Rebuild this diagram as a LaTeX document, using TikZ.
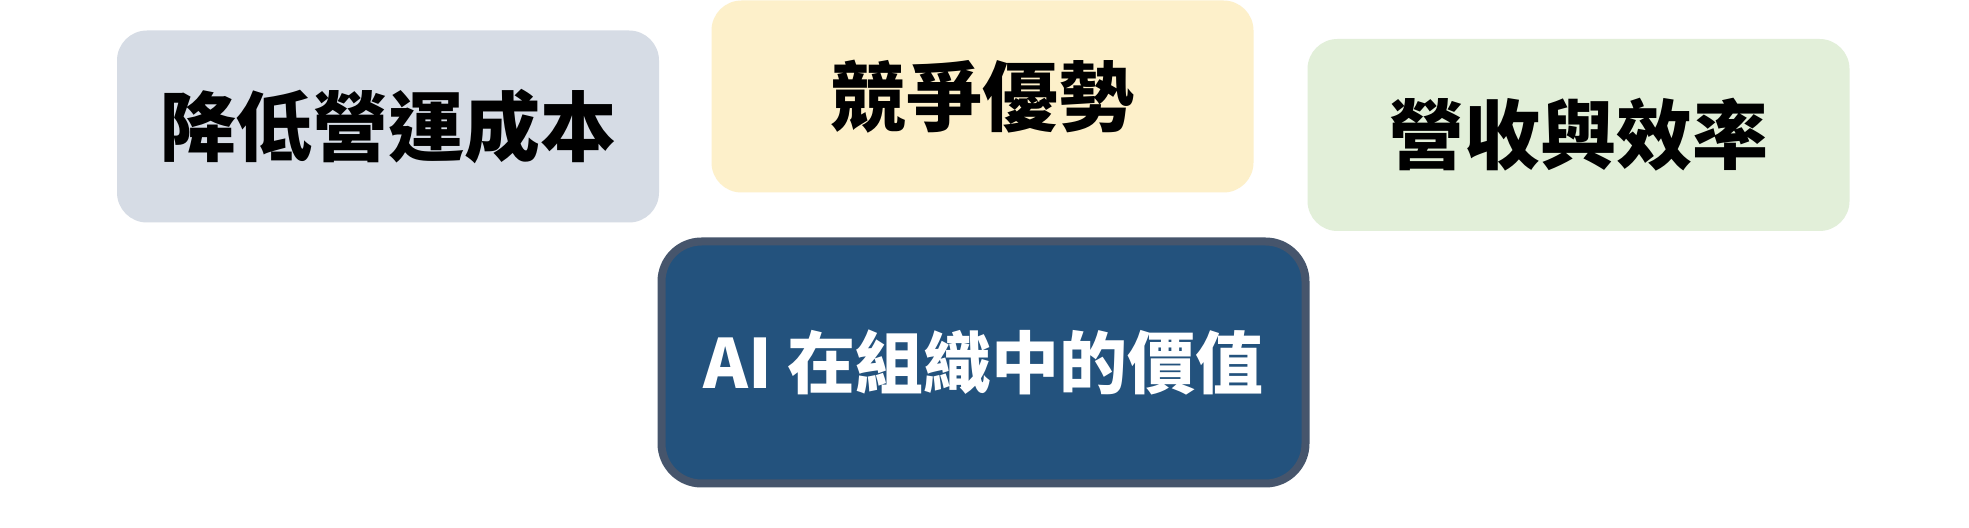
\documentclass[tikz,border=0pt]{standalone}
\usepackage{fontspec}
\newfontfamily\cjk{Noto Sans CJK TC}
\definecolor{boxgray}{HTML}{D6DCE5}
\definecolor{boxyellow}{HTML}{FDF0CA}
\definecolor{boxgreen}{HTML}{E2EFD9}
\definecolor{corefill}{HTML}{23527D}
\definecolor{coreline}{HTML}{46556C}
\tikzset{
  topbox/.style={rectangle, rounded corners=15pt, draw=none, minimum width=271pt, minimum height=96pt, inner sep=0pt,
    font=\cjk\bfseries\fontsize{38}{40}\selectfont, text=black},
  corebox/.style={rectangle, rounded corners=20pt, fill=corefill, draw=coreline, line width=4pt,
    minimum width=322pt, minimum height=121pt, inner sep=0pt,
    font=\cjk\bfseries\fontsize{34}{36}\selectfont, text=white}
}
\begin{document}
\begin{tikzpicture}[x=0.5pt,y=-0.5pt]
\useasboundingbox[fill=white] (0,0) rectangle (1969,528);
\node[topbox, fill=boxgray] (cost) at (388,126.5) {降低營運成本};
\node[topbox, fill=boxyellow] (comp) at (982.5,96.5) {競爭優勢};
\node[topbox, fill=boxgreen] (rev) at (1578.5,135) {營收與效率};
\node[corebox] (core) at (983.5,362.5) {AI 在組織中的價值};
\end{tikzpicture}
\end{document}
